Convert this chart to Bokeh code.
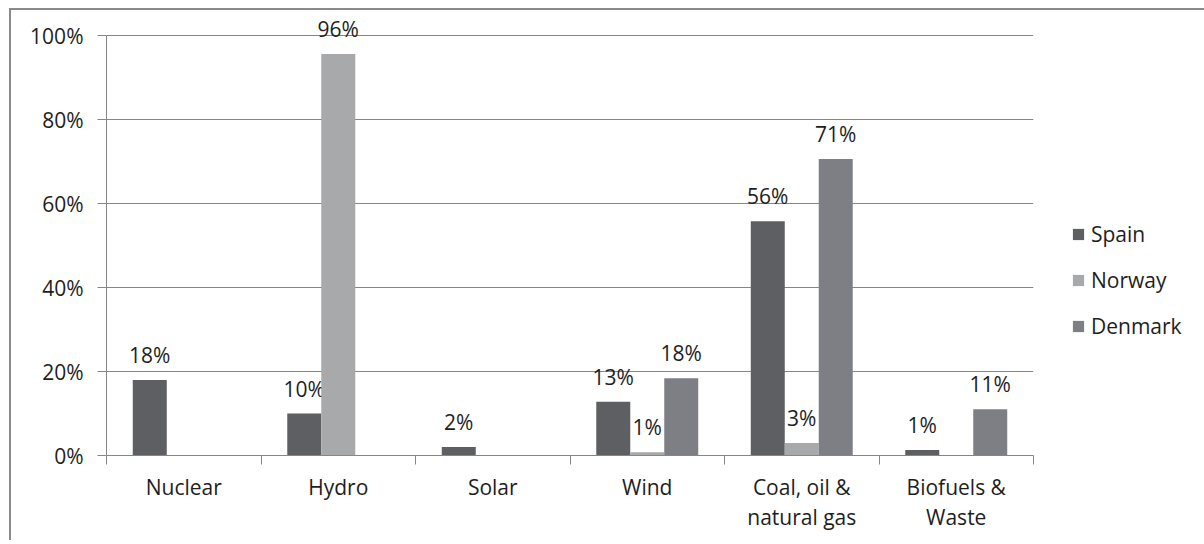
from bokeh.plotting import figure
from bokeh.models import (ColumnDataSource, FixedTicker, Range1d, Legend, LegendItem,
                          LinearAxis, Grid)
from bokeh.transform import dodge
from bokeh.core.properties import value
from bokeh.embed import file_html
from bokeh.resources import INLINE

categories = ["Nuclear", "Hydro", "Solar", "Wind", "Coal, oil &\nnatural gas", "Biofuels &\nWaste"]
series_names = ["Spain", "Norway", "Denmark"]
spain = [18.0, 10.0, 2.0, 12.8, 55.8, 1.3]
norway = [0.0, 95.6, 0.0, 0.8, 3.0, 0.0]
denmark = [0.0, 0.0, 0.0, 18.4, 70.6, 11.0]
colors = ["#5e5f63", "#a7a9ab", "#7e7f84"]
y_ticks = [0, 20, 40, 60, 80, 100]

FONT = "Open Sans"
TXT = "#1e1e1e"
GRID = "#868686"

xc = [i + 0.5 for i in range(len(categories))]


def lbl(vals):
    return [f"{round(v)}%" if v > 0 else "" for v in vals]


src = ColumnDataSource(dict(
    x=xc, spain=spain, norway=norway, denmark=denmark,
    l_spain=lbl(spain), l_norway=lbl(norway), l_denmark=lbl(denmark),
))

p = figure(output_backend="svg", toolbar_location=None,
           frame_width=927, frame_height=441,
           min_border_left=95, min_border_top=4, min_border_right=158, min_border_bottom=85,
           x_range=Range1d(0, len(categories)), y_range=Range1d(0, 105),
           x_axis_type=None, y_axis_type=None)
p.styles = {"margin-left": "9px", "margin-top": "8px",
            "border-left": "2px solid #8a8a8a", "border-top": "2px solid #8a8a8a"}
p.outline_line_color = None
p.background_fill_color = "white"
p.border_fill_color = "white"

# y axis
yax = LinearAxis(ticker=FixedTicker(ticks=y_ticks, minor_ticks=[]), bounds=(0, 100))
yax.major_label_overrides = {t: f"{t}%" for t in y_ticks}
yax.axis_line_color = GRID
yax.major_tick_line_color = GRID
yax.major_tick_out = 9
yax.major_tick_in = 0
yax.minor_tick_line_color = None
yax.major_label_standoff = 14
yax.major_label_text_font = FONT
yax.major_label_text_font_size = "21px"
yax.major_label_text_color = TXT
p.add_layout(yax, "left")

# x axis: labels at category centres, ticks at category boundaries
xax = LinearAxis(ticker=FixedTicker(ticks=xc, minor_ticks=list(range(len(categories) + 1))))
xax.major_label_overrides = {x: c for x, c in zip(xc, categories)}
xax.axis_line_color = GRID
xax.major_tick_line_color = None
xax.major_tick_out = 0
xax.major_tick_in = 0
xax.minor_tick_line_color = GRID
xax.minor_tick_out = 9
xax.minor_tick_in = 0
xax.major_label_standoff = 8
xax.major_label_text_font = FONT
xax.major_label_text_font_size = "21px"
xax.major_label_text_color = TXT
xax.major_label_text_line_height = 1.1
p.add_layout(xax, "below")

p.ygrid.grid_line_color = None
p.xgrid.grid_line_color = None
g = Grid(dimension=1, ticker=FixedTicker(ticks=y_ticks[1:]), grid_line_color=GRID, grid_line_width=1)
p.add_layout(g)

w = 0.22
offsets = [-w, 0.0, w]
keys = ["spain", "norway", "denmark"]
renderers = []
for k, off, col in zip(keys, offsets, colors):
    r = p.vbar(x=dodge("x", off, range=p.x_range), top=k, width=w, source=src,
               fill_color=col, line_color=None)
    renderers.append(r)
    p.text(x=dodge("x", off, range=p.x_range), y=k, text="l_" + k, source=src,
           text_align="center", text_baseline="middle", y_offset=-25,
           text_font=value(FONT), text_font_size="21px", text_color=TXT)

legend = Legend(items=[LegendItem(label=n, renderers=[r]) for n, r in zip(series_names, renderers)],
                location=(38, 115))
legend.border_line_color = None
legend.background_fill_alpha = 0
legend.padding = 0
legend.margin = 0
legend.glyph_width = 14
legend.glyph_height = 14
legend.label_height = 26
legend.spacing = 18
legend.label_standoff = 6
legend.label_text_font = FONT
legend.label_text_font_size = "21px"
legend.label_text_color = TXT
p.add_layout(legend, "right")

open("out.html", "w").write(file_html(p, INLINE))
